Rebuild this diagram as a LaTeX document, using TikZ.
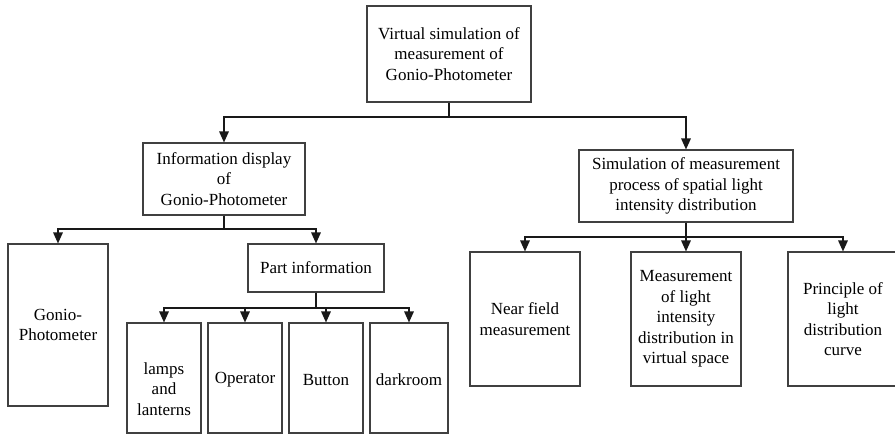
\documentclass[tikz,border=0pt]{standalone}
\usepackage{fontspec}
\setmainfont{Liberation Serif}
\usetikzlibrary{arrows.meta}
\begin{document}
\begin{tikzpicture}[x=1pt,y=-1pt,
  box/.style={draw=black!75, line width=1.1pt, fill=white, align=center,
    inner sep=0pt, font=\fontsize{17}{20.5}\selectfont},
  txt/.style={align=center, inner sep=0pt, font=\fontsize{17}{20.5}\selectfont},
  conn/.style={draw=black!90, line width=1.6pt,
    -{Triangle[width=9.5pt,length=11pt]}}]
\useasboundingbox (0,0) rectangle (895,434);
\clip (0,0) rectangle (895,434);
\fill[white] (0,0) rectangle (895,434);

% level 0
\node[box, minimum width=164, minimum height=96] (top) at (449,54)
  {Virtual simulation of\\measurement of\\Gonio-Photometer};

% level 1
\node[box, minimum width=162, minimum height=72] (info) at (224,179)
  {Information display\\of\\Gonio-Photometer};
\node[box, minimum width=214, minimum height=72] (sim) at (686,186)
  {Simulation of measurement\\process of spatial light\\intensity distribution};

% level 2, left branch
\node[box, minimum width=100, minimum height=162] (gonio) at (58,325)
  {Gonio-\\Photometer};
\node[box, minimum width=136, minimum height=48] (part) at (316,268)
  {Part information};

% level 2, right branch
\node[box, minimum width=110, minimum height=134] (near) at (525,319)
  {Near field\\measurement};
\node[box, minimum width=110, minimum height=134] (meas) at (686,319)
  {Measurement\\of light\\intensity\\distribution in\\virtual space};
\node[box, minimum width=110, minimum height=134] (princ) at (843,319)
  {Principle of\\light\\distribution\\curve};

% level 3
\node[box, minimum width=74, minimum height=110] (lamps) at (164,378) {};
\node[txt] (lampstxt) at (164,389) {lamps\\and\\lanterns};
\node[box, minimum width=74, minimum height=110] (oper) at (245,378) {};
\node[txt] (opertxt) at (245,380) {Operator};
\node[box, minimum width=74, minimum height=110] (button) at (326,378) {};
\node[txt] (buttontxt) at (326,380) {Button};
\node[box, minimum width=78, minimum height=110] (dark) at (409,378) {};
\node[txt] (darktxt) at (409,380) {darkroom};

% bus heights
\coordinate (bus0) at (0,117);
\coordinate (bus1) at (0,229);
\coordinate (bus2) at (0,308);
\coordinate (bus3) at (0,237);

% connectors
\draw[conn] (top.south) -- (top.south |- bus0) -| (info.north);
\draw[conn] (top.south) -- (top.south |- bus0) -| (sim.north);

\draw[conn] (info.south) -- (info.south |- bus1) -| (gonio.north);
\draw[conn] (info.south) -- (info.south |- bus1) -| (part.north);

\draw[conn] (part.south) -- (part.south |- bus2) -| (lamps.north);
\draw[conn] (part.south) -- (part.south |- bus2) -| (oper.north);
\draw[conn] (part.south) -- (part.south |- bus2) -| (button.north);
\draw[conn] (part.south) -- (part.south |- bus2) -| (dark.north);

\draw[conn] (sim.south) -- (sim.south |- bus3) -| (near.north);
\draw[conn] (sim.south) -- (meas.north);
\draw[conn] (sim.south) -- (sim.south |- bus3) -| (princ.north);
\end{tikzpicture}
\end{document}
